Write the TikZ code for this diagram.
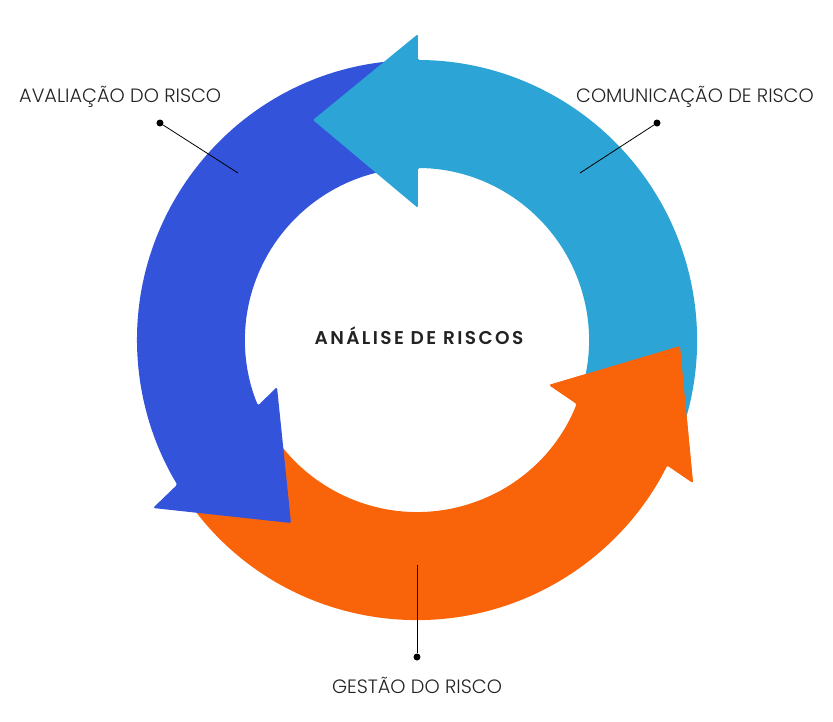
\documentclass[tikz,border=0pt]{standalone}
\usepackage{fontspec}
\setmainfont{Poppins}[UprightFont={* Light},BoldFont={* SemiBold}]
\usepackage{xcolor}
\definecolor{ringblue}{HTML}{3253DA}
\definecolor{ringcyan}{HTML}{2DA4D6}
\definecolor{ringorange}{HTML}{F9640A}
\definecolor{labelgray}{HTML}{222222}

\begin{document}
\begin{tikzpicture}[x=1pt,y=1pt,
  arrowpart/.style={rounded corners=1.5pt},
  lbl/.style={inner sep=0pt,text=labelgray,font=\fontsize{19.3}{19.3}\selectfont},
  pin/.style={circle,fill=black,inner sep=0pt,minimum size=7pt},
  leader/.style={line width=0.8pt,black}]
\useasboundingbox (-417,-381) rectangle (416,340);
% ring of arrows: orange, blue, cyan, then the orange head once more on top
\fill[ringorange,arrowpart] (215:280pt) arc[start angle=215,end angle=333.4,radius=280pt] -- (276,-143) -- (263,-6) -- (132,-45) -- (338.2:172pt) arc[start angle=338.2,end angle=215,radius=172pt] -- cycle;
\fill[ringblue,arrowpart] (95:280pt) arc[start angle=95,end angle=211.1,radius=280pt] -- (-264,-168) -- (-126,-183) -- (-140,-47) -- (202.4:172pt) arc[start angle=202.4,end angle=95,radius=172pt] -- cycle;
\fill[ringcyan,arrowpart] (-25:280pt) arc[start angle=-25,end angle=89.8,radius=280pt] -- (1,306) -- (-104,220) -- (1,132) -- (89.7:172pt) arc[start angle=89.7,end angle=-18,radius=172pt] -- cycle;
\fill[ringorange,arrowpart] (276,-143) -- (263,-6) -- (132,-45) -- cycle;
% labels
\node[lbl,anchor=base west] (aval) at (-398,238) {AVALIAÇÃO DO RISCO};
\node[lbl,anchor=base east] (comu) at (397,238) {COMUNICAÇÃO DE RISCO};
\node[lbl,anchor=base] (gest) at (0,-353) {GESTÃO DO RISCO};
\node[lbl,anchor=base,font=\fontsize{18.5}{18.5}\selectfont\bfseries\addfontfeatures{LetterSpace=13}] (anal) at (2,-4) {ANÁLISE DE RISCOS};
\node[pin] (pa) at (-257,217) {};
\coordinate (ea) at (-179,167);
\node[pin] (pc) at (240,217) {};
\coordinate (ec) at (163,167);
\node[pin] (pg) at (0,-317) {};
\coordinate (eg) at (0,-225);
\draw[leader] (pa) -- (ea);
\draw[leader] (pc) -- (ec);
\draw[leader] (pg) -- (eg);
\end{tikzpicture}
\end{document}
